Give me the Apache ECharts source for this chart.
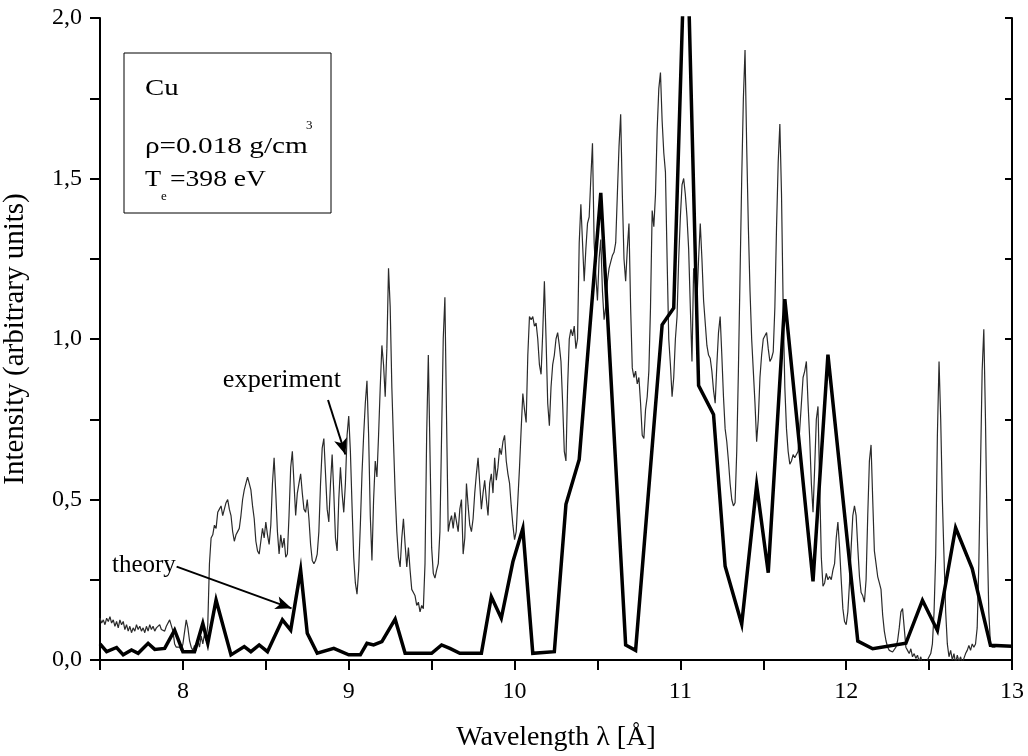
<!DOCTYPE html>
<html>
<head>
<meta charset="utf-8">
<script src="https://cdn.jsdelivr.net/npm/echarts@6/dist/echarts.min.js"></script>
<style>
html,body{margin:0;padding:0;background:#fff;}
#chart{width:1028px;height:756px;}
</style>
</head>
<body>
<div id="chart"></div>
<script>
// ---- Data ----
const theoryX = [7.50,7.54,7.60,7.64,7.69,7.73,7.79,7.83,7.89,7.95,8.00,8.07,8.12,8.15,8.20,8.29,8.37,8.41,8.46,8.51,8.60,8.65,8.71,8.75,8.81,8.91,9.00,9.07,9.11,9.15,9.20,9.28,9.34,9.50,9.56,9.61,9.67,9.80,9.86,9.92,9.99,10.05,10.11,10.24,10.31,10.39,10.52,10.67,10.73,10.89,10.96,11.035,11.11,11.20,11.27,11.37,11.46,11.53,11.63,11.80,11.89,12.07,12.16,12.36,12.46,12.55,12.66,12.76,12.87,13.00];
const theoryY = [0.050,0.026,0.039,0.016,0.031,0.021,0.052,0.033,0.036,0.093,0.026,0.026,0.114,0.052,0.187,0.016,0.042,0.026,0.047,0.026,0.125,0.093,0.280,0.083,0.021,0.036,0.016,0.016,0.052,0.047,0.057,0.127,0.021,0.021,0.047,0.036,0.021,0.021,0.197,0.130,0.306,0.410,0.021,0.026,0.485,0.625,1.455,0.047,0.030,1.044,1.097,2.380,0.855,0.765,0.292,0.112,0.545,0.272,1.124,0.245,0.951,0.059,0.035,0.052,0.186,0.092,0.412,0.285,0.046,0.043];

const expX = [
7.50,7.51,7.52,7.53,7.54,7.55,7.56,7.57,7.58,7.59,7.60,7.61,7.62,7.63,7.64,7.65,7.66,7.67,7.68,7.69,
7.70,7.71,7.72,7.73,7.74,7.75,7.76,7.77,7.78,7.79,7.80,7.81,7.82,7.83,7.84,7.85,7.86,7.87,7.88,7.89,
7.90,7.91,7.92,7.93,7.94,7.95,7.96,7.97,7.98,7.99,8.00,8.02,8.03,8.04,8.05,8.06,8.07,8.08,8.09,8.10,
8.11,8.12,8.13,8.14,8.15,8.16,8.17,8.18,8.19,8.20,8.21,8.22,8.23,8.24,8.25,8.26,8.27,8.28,8.29,8.30,
8.31,8.32,8.33,8.34,8.35,8.36,8.37,8.38,8.39,8.40,8.41,8.42,8.43,8.44,8.45,8.46,8.47,8.48,8.49,8.50,
8.51,8.52,8.53,8.54,8.55,8.56,8.57,8.58,8.59,8.60,8.61,8.62,8.63,8.64,8.65,8.66,8.67,8.68,8.69,8.70,
8.71,8.72,8.73,8.74,8.75,8.76,8.77,8.78,8.79,8.80,8.81,8.82,8.83,8.84,8.85,8.86,8.87,8.88,8.89,8.90,
8.91,8.92,8.93,8.94,8.95,8.96,8.97,8.98,8.99,9.00,9.01,9.02,9.03,9.04,9.05,9.06,9.07,9.08,9.09,9.10,
9.11,9.12,9.13,9.14,9.15,9.16,9.17,9.18,9.19,9.20,9.21,9.22,9.23,9.24,9.25,9.26,9.27,9.28,9.29,9.30,
9.31,9.32,9.33,9.34,9.35,9.36,9.37,9.38,9.39,9.40,9.41,9.42,9.43,9.44,9.45,9.46,9.47,9.48,9.49,9.50,
9.51,9.52,9.53,9.54,9.55,9.56,9.57,9.58,9.59,9.60,9.61,9.62,9.63,9.64,9.65,9.66,9.67,9.68,9.69,9.70,
9.71,9.72,9.73,9.74,9.75,9.76,9.77,9.78,9.79,9.80,9.81,9.82,9.83,9.84,9.85,9.86,9.87,9.88,9.89,9.90,
9.91,9.92,9.93,9.94,9.95,9.96,9.97,9.98,9.99,10.00,10.01,10.02,10.03,10.04,10.05,10.06,10.07,10.08,10.09,10.10,
10.11,10.12,10.13,10.14,10.15,10.16,10.17,10.18,10.19,10.20,10.21,10.22,10.23,10.24,10.25,10.26,10.27,10.28,10.29,10.30,
10.31,10.32,10.33,10.34,10.35,10.36,10.37,10.38,10.39,10.40,10.41,10.42,10.43,10.44,10.45,10.46,10.47,10.48,10.49,10.50,
10.51,10.52,10.53,10.54,10.55,10.56,10.57,10.58,10.59,10.60,10.61,10.62,10.63,10.64,10.65,10.66,10.67,10.68,10.69,10.70,
10.71,10.72,10.73,10.74,10.75,10.76,10.77,10.78,10.79,10.80,10.81,10.82,10.83,10.84,10.85,10.86,10.87,10.88,10.89,10.90,
10.91,10.92,10.93,10.94,10.95,10.96,10.97,10.98,10.99,11.00,11.01,11.02,11.03,11.04,11.05,11.06,11.07,11.08,11.09,11.10,
11.11,11.12,11.13,11.14,11.15,11.16,11.17,11.18,11.19,11.20,11.21,11.22,11.23,11.24,11.25,11.26,11.27,11.28,11.29,11.30,
11.31,11.32,11.33,11.34,11.35,11.36,11.37,11.38,11.39,11.40,11.41,11.42,11.43,11.44,11.45,11.46,11.47,11.48,11.49,11.50,
11.51,11.52,11.53,11.54,11.55,11.56,11.57,11.58,11.59,11.60,11.61,11.62,11.63,11.64,11.65,11.66,11.67,11.68,11.69,11.70,
11.71,11.72,11.73,11.74,11.75,11.76,11.77,11.78,11.79,11.80,11.81,11.82,11.83,11.84,11.85,11.86,11.87,11.88,11.89,11.90,
11.91,11.92,11.93,11.94,11.95,11.96,11.97,11.98,11.99,12.00,12.01,12.02,12.03,12.04,12.05,12.06,12.07,12.08,12.09,12.10,
12.11,12.12,12.13,12.14,12.15,12.16,12.17,12.18,12.19,12.20,12.21,12.22,12.23,12.24,12.25,12.26,12.27,12.28,12.29,12.30,
12.31,12.32,12.33,12.34,12.35,12.36,12.37,12.38,12.39,12.40,12.41,12.42,12.43,12.44,12.45,12.46,12.47,12.48,12.49,12.50,
12.51,12.52,12.53,12.54,12.55,12.56,12.57,12.58,12.59,12.60,12.61,12.62,12.63,12.64,12.65,12.66,12.67,12.68,12.69,12.70,
12.71,12.72,12.73,12.74,12.75,12.76,12.77,12.78,12.79,12.80,12.81,12.82,12.83,12.84,12.85,12.86,12.87,12.88,12.90
];
const expY = [
0.130,0.115,0.125,0.110,0.130,0.120,0.135,0.115,0.125,0.105,0.120,0.100,0.125,0.110,0.120,0.095,0.110,0.090,0.105,0.085,
0.100,0.090,0.110,0.095,0.105,0.090,0.100,0.085,0.105,0.090,0.110,0.095,0.105,0.090,0.100,0.095,0.110,0.095,0.100,0.090,
0.105,0.100,0.125,0.130,0.090,0.050,0.040,0.035,0.040,0.030,0.050,0.125,0.100,0.060,0.040,0.030,0.045,0.030,0.060,0.040,
0.075,0.050,0.080,0.060,0.110,0.300,0.380,0.390,0.420,0.410,0.460,0.470,0.480,0.450,0.470,0.490,0.500,0.470,0.450,0.400,
0.370,0.390,0.400,0.410,0.450,0.500,0.530,0.550,0.570,0.550,0.530,0.480,0.440,0.370,0.340,0.330,0.370,0.410,0.380,0.430,
0.390,0.360,0.420,0.550,0.630,0.520,0.400,0.330,0.390,0.350,0.380,0.320,0.330,0.450,0.600,0.650,0.550,0.450,0.520,0.550,
0.580,0.520,0.470,0.460,0.500,0.440,0.360,0.310,0.300,0.310,0.330,0.400,0.550,0.660,0.690,0.580,0.470,0.430,0.550,0.640,
0.520,0.380,0.340,0.500,0.600,0.520,0.460,0.550,0.700,0.760,0.650,0.480,0.320,0.240,0.205,0.280,0.420,0.580,0.700,0.800,
0.870,0.700,0.450,0.310,0.500,0.620,0.570,0.700,0.850,0.980,0.920,0.820,0.970,1.220,1.100,0.850,0.680,0.520,0.400,0.320,
0.290,0.380,0.440,0.360,0.290,0.350,0.280,0.220,0.210,0.200,0.170,0.180,0.150,0.170,0.160,0.300,0.700,0.950,0.650,0.350,
0.270,0.255,0.280,0.300,0.400,0.700,1.000,1.130,0.750,0.400,0.430,0.450,0.410,0.460,0.430,0.400,0.470,0.500,0.330,0.380,
0.550,0.480,0.420,0.400,0.440,0.520,0.580,0.630,0.550,0.470,0.520,0.560,0.500,0.450,0.550,0.580,0.520,0.630,0.560,0.600,
0.660,0.640,0.680,0.700,0.620,0.580,0.550,0.480,0.420,0.375,0.400,0.500,0.600,0.720,0.830,0.780,0.740,0.950,1.070,1.060,
1.070,1.040,1.050,1.000,0.920,0.890,1.020,1.180,1.000,0.800,0.730,0.850,0.920,0.950,1.000,1.020,0.980,0.930,0.800,0.650,
0.620,0.850,1.000,1.030,1.010,1.040,0.970,1.000,1.300,1.420,1.300,1.180,1.280,1.360,1.380,1.500,1.610,1.300,1.200,1.120,
1.250,1.310,1.150,1.060,1.100,1.180,1.220,1.240,1.260,1.270,1.300,1.450,1.600,1.700,1.450,1.250,1.180,1.280,1.360,1.100,
0.910,0.880,0.900,0.860,0.880,0.800,0.700,0.690,0.780,0.820,0.900,1.100,1.400,1.350,1.450,1.650,1.780,1.830,1.680,1.580,
1.520,1.250,1.000,0.920,0.820,0.880,1.000,1.070,1.250,1.380,1.480,1.500,1.450,1.380,1.280,1.100,0.930,1.220,1.180,1.120,
1.250,1.360,1.250,1.120,1.050,0.980,0.950,0.940,0.900,0.840,0.800,0.920,1.020,1.070,0.950,0.820,0.720,0.680,0.620,0.550,
0.500,0.480,0.490,0.650,0.900,1.200,1.500,1.750,1.900,1.600,1.350,1.150,1.000,0.900,0.800,0.680,0.750,0.880,0.950,1.000,
1.000,1.020,0.970,0.930,0.940,0.960,1.100,1.350,1.550,1.670,1.450,1.100,0.850,0.720,0.650,0.610,0.620,0.640,0.630,0.640,
0.650,0.720,0.800,0.880,0.900,0.930,0.800,0.690,0.550,0.460,0.600,0.750,0.790,0.550,0.320,0.230,0.240,0.270,0.250,0.260,
0.250,0.280,0.300,0.380,0.430,0.350,0.250,0.160,0.120,0.110,0.150,0.240,0.350,0.450,0.480,0.450,0.350,0.260,0.210,0.200,
0.180,0.250,0.450,0.620,0.670,0.500,0.340,0.300,0.260,0.240,0.220,0.140,0.090,0.060,0.040,0.030,0.035,0.025,0.030,0.040,
0.060,0.100,0.150,0.160,0.100,0.040,0.030,0.020,0.035,0.010,0.020,0.005,0.015,-0.005,0.010,-0.015,0.000,-0.020,0.000,0.010,
0.020,0.050,0.150,0.330,0.700,0.930,0.750,0.500,0.320,0.150,0.050,0.010,0.030,0.000,0.020,-0.010,0.015,-0.005,0.010,-0.010,
0.005,0.020,0.030,0.045,0.030,0.050,0.040,0.050,0.100,0.300,0.600,0.900,1.030,0.750,0.400,0.150,0.050,0.040,0.040
];

const xTickLabels = ['8','9','10','11','12','13'];
const yTickLabels = ['0,0','0,5','1,0','1,5','2,0'];

const FONT = 'Liberation Serif';

const chart = echarts.init(document.getElementById('chart'), null, {renderer: 'canvas'});

const expData = expX.map((x, i) => [x, expY[i]]);
const theoryData = theoryX.map((x, i) => [x, theoryY[i]]);

function xLabel(v) {
  const s = String(Math.round(v * 100) / 100);
  return xTickLabels.indexOf(s) >= 0 ? s : '';
}
function yLabel(v) {
  const s = (Math.round(v * 100) / 100).toFixed(1).replace('.', ',');
  return (Math.abs(v * 2 - Math.round(v * 2)) < 1e-9 && yTickLabels.indexOf(s) >= 0) ? s : '';
}

const axisLine = {show: true, lineStyle: {color: '#000', width: 2}};

const option = {
  animation: false,
  backgroundColor: '#fff',
  grid: {left: 100, right: 16, top: 18, bottom: 96, outerBoundsMode: 'none'},
  xAxis: [{
    type: 'value', min: 7.5, max: 13, interval: 0.5, position: 'bottom',
    name: 'Wavelength λ [Å]', nameLocation: 'middle', nameGap: 64,
    nameTextStyle: {fontFamily: FONT, fontSize: 28, color: '#000'},
    axisLine: axisLine,
    axisTick: {show: true, inside: false, length: 10, lineStyle: {color: '#000', width: 2}},
    axisLabel: {formatter: xLabel, margin: 20, fontFamily: FONT, fontSize: 24, color: '#000'},
    splitLine: {show: false}
  }, {
    type: 'value', min: 7.5, max: 13, interval: 0.5, position: 'top',
    axisLine: axisLine,
    axisTick: {show: true, inside: true, length: 7, lineStyle: {color: '#000', width: 2}},
    axisLabel: {show: false}, splitLine: {show: false}
  }],
  yAxis: [{
    type: 'value', min: 0, max: 2, interval: 0.25, position: 'left',
    name: 'Intensity (arbitrary units)', nameLocation: 'middle', nameGap: 70,
    nameTextStyle: {fontFamily: FONT, fontSize: 29, color: '#000'},
    axisLine: axisLine,
    axisTick: {show: true, inside: false, length: 10, lineStyle: {color: '#000', width: 2}},
    axisLabel: {formatter: yLabel, margin: 18, fontFamily: FONT, fontSize: 24, color: '#000'},
    splitLine: {show: false}
  }, {
    type: 'value', min: 0, max: 2, interval: 0.25, position: 'right',
    axisLine: axisLine,
    axisTick: {show: true, inside: true, length: 7, lineStyle: {color: '#000', width: 2}},
    axisLabel: {show: false}, splitLine: {show: false}
  }],
  series: [{
    name: 'experiment', type: 'line', data: expData, showSymbol: false, symbol: 'none',
    clip: true, z: 2,
    lineStyle: {color: '#2a2a2a', width: 1.2}
  }, {
    name: 'theory', type: 'line', data: theoryData, showSymbol: false, symbol: 'none',
    clip: true, z: 3,
    lineStyle: {color: '#000', width: 3.5, join: 'miter'},
    markLine: {
      silent: true, symbol: ['none', 'arrow'], symbolSize: [10, 16],
      lineStyle: {color: '#000', width: 2, type: 'solid'},
      label: {show: false},
      data: [
        [{coord: [8.875, 0.81]}, {coord: [8.98, 0.64]}],
        [{coord: [7.962, 0.291]}, {coord: [8.655, 0.161]}]
      ]
    }
  }]
};
chart.setOption(option);

// annotation texts placed in data space via the chart's own scales
const pExp = chart.convertToPixel({xAxisIndex: 0, yAxisIndex: 0}, [8.241, 0.872]);
const pTh = chart.convertToPixel({xAxisIndex: 0, yAxisIndex: 0}, [7.572, 0.296]);

const F24 = '24px "Liberation Serif"';
const F13 = '13px "Liberation Serif"';
chart.setOption({
  graphic: [
    {type: 'rect', shape: {x: 124, y: 53, width: 207, height: 160},
     style: {fill: '#fff', stroke: '#000', lineWidth: 1}, z: 10},
    {type: 'text', x: 145, y: 89, scaleX: 1.2, z: 11,
     style: {text: 'Cu', font: F24, fill: '#000', verticalAlign: 'middle'}},
    {type: 'text', x: 145, y: 147, scaleX: 1.22, z: 11,
     style: {text: 'ρ=0.018 g/cm', font: F24, fill: '#000', verticalAlign: 'middle'}},
    {type: 'text', x: 306, y: 126, z: 11,
     style: {text: '3', font: F13, fill: '#000', verticalAlign: 'middle'}},
    {type: 'text', x: 145, y: 180, scaleX: 1.1, z: 11,
     style: {text: 'T', font: F24, fill: '#000', verticalAlign: 'middle'}},
    {type: 'text', x: 161, y: 197, z: 11,
     style: {text: 'e', font: F13, fill: '#000', verticalAlign: 'middle'}},
    {type: 'text', x: 170, y: 180, scaleX: 1.15, z: 11,
     style: {text: '=398 eV', font: F24, fill: '#000', verticalAlign: 'middle'}},
    {type: 'text', x: pExp[0], y: pExp[1], scaleX: 1.05, z: 11,
     style: {text: 'experiment', font: '25px "Liberation Serif"', fill: '#000', verticalAlign: 'middle'}},
    {type: 'text', x: pTh[0], y: pTh[1], z: 11,
     style: {text: 'theory', font: '25px "Liberation Serif"', fill: '#000', verticalAlign: 'middle'}}
  ]
});
</script>
</body>
</html>
